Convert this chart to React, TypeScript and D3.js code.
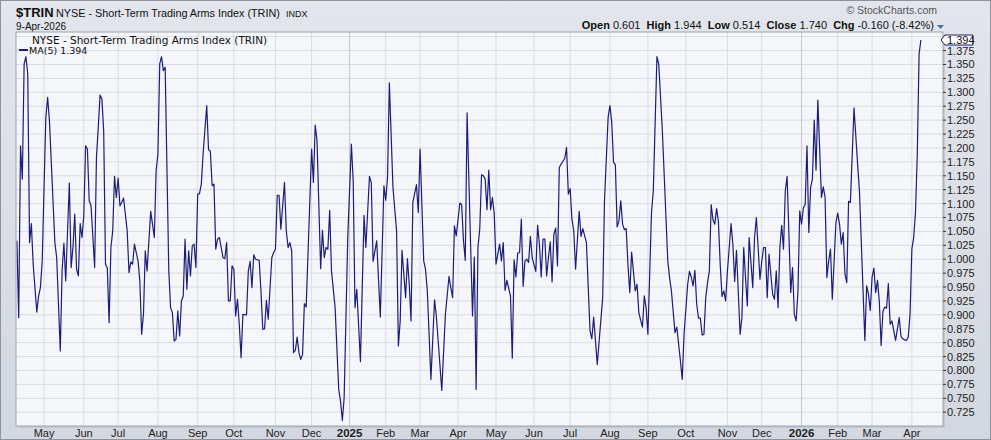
import React from 'react';
import * as d3 from 'd3';

// ---- calendar (NYSE sessions) ----
const START = '2024-04-10';
const END = '2026-04-09';
const HOLIDAYS = [
  '2024-05-27', '2024-06-19', '2024-07-04', '2024-09-02', '2024-11-28', '2024-12-25',
  '2025-01-01', '2025-01-09', '2025-01-20', '2025-02-17', '2025-04-18', '2025-05-26',
  '2025-06-19', '2025-07-04', '2025-09-01', '2025-11-27', '2025-12-25',
  '2026-01-01', '2026-01-19', '2026-02-16', '2026-04-03',
];

// ---- x-axis tick labels (one per month start, in order) ----
const xTickLabels = ['May', 'Jun', 'Jul', 'Aug', 'Sep', 'Oct', 'Nov', 'Dec', '2025', 'Feb', 'Mar', 'Apr',
  'May', 'Jun', 'Jul', 'Aug', 'Sep', 'Oct', 'Nov', 'Dec', '2026', 'Feb', 'Mar', 'Apr'];

// ---- y-axis tick labels ----
const yTicks = [0.725, 0.75, 0.775, 0.8, 0.825, 0.85, 0.875, 0.9, 0.925, 0.95, 0.975, 1.0, 1.025, 1.05,
  1.075, 1.1, 1.125, 1.15, 1.175, 1.2, 1.225, 1.25, 1.275, 1.3, 1.325, 1.35, 1.375];

// ---- MA(5) series: session number (0 = first session) and value ----
const sessionNo = [
  0, 1, 2, 3, 4, 5, 6, 7, 8, 9, 11, 12, 13, 14, 16, 17, 18, 21, 22, 24, 25, 26, 27, 29, 30, 31, 32, 33, 34, 35,
  36, 37, 38, 39, 40, 41, 43, 44, 45, 46, 47, 48, 49, 50, 51, 52, 53, 54, 55, 56, 57, 58, 59, 61, 62, 63, 64, 65,
  67, 68, 69, 70, 71, 72, 74, 75, 76, 77, 78, 79, 80, 81, 82, 84, 85, 86, 87,
  88, 89, 90, 91, 92, 93, 94, 95, 96, 97, 98, 99, 100, 101, 102, 103, 105, 106, 107, 108, 109, 110, 111, 112,
  113, 114, 115, 116, 117, 118, 119, 120, 121, 122, 123, 124, 125, 127, 128, 129, 130, 131, 132, 134, 135, 136,
  137, 138, 139, 141, 142, 143, 144, 145, 146, 148, 149, 150, 151, 152, 153, 154, 155, 156, 157, 158, 159, 160,
  163, 164, 165, 166, 168, 169, 170, 171, 172, 173,
  174, 176, 178, 179, 180, 181, 183, 185, 186, 187, 188, 190, 192, 193, 195, 196, 197, 199, 201, 203, 204, 205,
  206, 208, 210, 211, 212, 213, 215, 216, 217, 218, 219, 221, 222, 223, 225, 226, 227, 229, 231, 232, 235, 237,
  239, 240, 241, 242, 243, 245, 246, 247, 248, 249, 252, 253, 254, 255, 256, 257, 258, 259,
  260, 261, 262, 263, 264, 265, 267, 268, 269, 270, 271, 273, 274, 275, 276, 277, 278, 279, 280, 281, 282, 283,
  284, 285, 287, 288, 289, 290, 291, 292, 293, 294, 295, 296, 297, 298, 299, 300, 301, 303, 304, 305, 306, 307,
  308, 309, 311, 312, 313, 315, 317, 318, 319, 321, 324, 325, 327, 328, 329, 330, 331, 332, 333, 334, 335, 336,
  337, 338, 339, 340, 342, 343, 344, 345,
  346, 347, 348, 349, 351, 352, 354, 355, 357, 360, 361, 362, 364, 365, 367, 368, 369, 371, 372, 373, 374, 375,
  376, 377, 378, 379, 380, 381, 382, 383, 384, 385, 386, 387, 388, 389, 390, 391, 392, 393, 395, 396, 397, 398,
  400, 401, 402, 403, 404, 405, 407, 408, 409, 411, 412, 413, 414, 415, 416, 418, 419, 420, 421, 422, 423, 424,
  425, 426, 428, 429, 430, 431, 432,
  433, 434, 435, 436, 437, 438, 439, 440, 441, 442, 443, 445, 446, 447, 448, 449, 450, 451, 453, 454, 455, 456,
  457, 458, 459, 460, 461, 463, 465, 466, 469, 470, 471, 472, 473, 474, 475, 476, 477, 478, 479, 480, 481, 482,
  483, 484, 485, 486, 488, 489, 490, 491, 492, 493, 494, 495, 496, 497, 498, 499, 500,
];
const ma5 = [
  1.033, 0.895, 1.204, 1.144, 1.351, 1.364, 1.333, 1.030, 1.064, 0.991, 0.905, 0.934, 0.949, 0.997, 1.255, 1.291,
  1.249, 1.030, 1.003, 0.835, 0.979, 1.029, 0.961, 1.137, 0.985, 1.021, 1.081, 0.982, 0.970, 1.064,
  1.039, 1.078, 1.204, 1.198, 1.105, 1.096, 0.985, 1.183, 1.237, 1.295, 1.288, 1.231, 0.991, 0.984, 0.886, 1.021,
  1.051, 1.149, 1.111, 1.146, 1.096, 1.102, 1.110, 1.051, 0.976, 0.995, 0.991, 1.027,
  0.997, 0.961, 0.865, 0.901, 1.015, 0.979, 1.086, 1.063, 1.039, 1.159, 1.189, 1.351, 1.364, 1.339, 1.345, 0.980,
  0.913, 0.904, 0.853,
  0.856, 0.907, 0.862, 0.925, 0.934, 1.036, 0.946, 1.015, 0.970, 1.024, 1.027, 0.985, 1.117, 1.118, 1.135, 1.190,
  1.276, 1.197, 1.194, 1.132, 1.135, 1.018, 1.036, 1.039,
  1.021, 1.003, 1.001, 1.030, 0.925, 0.925, 0.988, 0.982, 0.898, 0.928, 0.883, 0.823, 0.901, 0.900, 0.979, 0.996,
  0.949, 1.008, 1.000, 0.998, 0.943, 0.874,
  0.875, 0.926, 0.892, 1.003, 1.012, 1.018, 1.115, 1.115, 1.054, 1.138, 1.051, 1.021, 1.030, 1.015, 0.832, 0.836,
  0.860, 0.832, 0.820, 0.829, 0.920, 0.914,
  1.198, 1.138, 1.241, 1.213, 0.983, 1.052, 1.003, 1.021, 1.018, 1.088,
  0.979, 0.913, 0.766, 0.745, 0.710, 0.751, 1.039, 1.207, 1.141, 0.913, 0.946, 0.816, 1.079, 1.021, 1.149, 1.138,
  0.996, 1.033, 0.896, 1.132, 1.106, 1.147,
  1.317, 1.129, 1.051, 0.844, 0.889, 1.016, 0.931, 1.001, 0.955, 0.889, 1.102, 1.134, 1.084, 1.198, 0.997, 0.982,
  0.943, 0.784, 0.927, 0.898, 0.764, 0.901,
  0.969, 0.949, 0.931, 1.060, 1.042, 1.101, 1.098, 1.033, 0.998, 1.263, 0.898, 1.004, 0.766, 1.021, 1.054, 1.152,
  1.150, 1.144,
  1.089, 1.160, 1.089, 1.111, 1.082, 0.991, 1.027, 0.997, 1.030, 0.944, 0.962, 0.934, 0.822, 0.999, 0.968, 1.011,
  1.012, 1.072, 0.951, 0.997, 1.000, 0.994,
  1.041, 1.003, 0.978, 1.061, 1.027, 0.968, 1.036, 1.036, 0.970, 1.003, 1.031, 0.959, 1.045, 1.056, 0.988, 1.165,
  1.171, 1.181, 1.201, 1.117, 1.127, 1.072,
  1.051, 0.982, 1.086, 1.041, 1.055, 1.030, 0.871, 0.857, 0.896, 0.811, 0.931, 1.105, 1.255, 1.276, 1.246, 1.174,
  1.170, 1.058, 1.069, 1.105, 1.063, 1.053,
  1.055, 0.988, 0.940, 1.013, 0.943, 0.955, 0.904, 0.890,
  0.878, 0.934, 0.913, 0.865, 1.084, 1.123, 1.364, 1.351, 1.231, 0.997, 0.967, 0.943, 0.868, 0.878, 0.817, 0.784,
  0.865, 0.955, 0.978, 0.968, 0.952, 0.980,
  0.919, 0.894, 0.894, 0.864, 0.865, 0.931, 0.958, 0.979, 1.098, 1.071, 1.063, 1.091, 1.068, 0.991, 0.933, 0.943,
  0.925, 0.979, 1.064, 1.027, 0.960, 1.016,
  0.865, 0.895, 1.021, 0.967, 0.916, 1.039, 0.949, 1.039, 1.075, 0.964, 0.997, 1.021, 1.021, 0.931, 1.009, 0.937,
  0.928, 0.979, 0.913, 1.021, 1.061, 1.018,
  1.123, 1.149, 0.940, 0.985, 0.901, 0.889, 0.943,
  1.087, 1.063, 1.092, 1.099, 1.204, 1.048, 1.129, 1.144, 1.250, 1.160, 1.286, 1.111, 1.130, 1.111, 0.967, 0.997,
  1.018, 0.928, 1.066, 1.083, 1.063, 1.027,
  1.048, 0.973, 0.958, 1.104, 1.102, 1.272, 1.171, 1.123, 0.854, 0.952, 0.937, 0.908, 0.968, 0.984, 0.940, 0.962,
  0.924, 0.845, 0.906, 0.914, 0.912, 0.956,
  0.883, 0.889, 0.871, 0.854, 0.895, 0.861, 0.857, 0.855, 0.854, 0.860, 0.901, 1.018, 1.039, 1.084, 1.189, 1.369,
  1.394,
];

// ---- header quote ----
const quoteLabels = ['Open', 'High', 'Low', 'Close', 'Chg'];
const quoteValues = ['0.601', '1.944', '0.514', '1.740', '-0.160 (-8.42%)'];
const lastMA = '1.394';

function buildSessions(): Date[] {
  const hol = new Set(HOLIDAYS);
  const out: Date[] = [];
  const d = new Date(START + 'T00:00:00Z');
  const end = new Date(END + 'T00:00:00Z').getTime();
  while (d.getTime() <= end) {
    const wd = d.getUTCDay();
    const iso = d.toISOString().slice(0, 10);
    if (wd !== 0 && wd !== 6 && !hol.has(iso)) out.push(new Date(d.getTime()));
    d.setUTCDate(d.getUTCDate() + 1);
  }
  return out;
}

const W = 991;
const H = 440;
const PL = 16, PR = 943, PT = 32, PB = 426;
const NAVY = '#1d1d78';
const AX_FONT = 'Arial, "Liberation Sans", sans-serif';
const LEG_FONT = '"DejaVu Sans", Verdana, sans-serif';

export default function App() {
  const sessions = buildSessions();
  const monthStarts: number[] = [];
  for (let i = 1; i < sessions.length; i++) {
    if (sessions[i].getUTCMonth() !== sessions[i - 1].getUTCMonth()) monthStarts.push(i);
  }
  const x = d3.scaleLinear().domain([0, sessions.length - 1]).range([16.9, 920.9]);
  const y = d3.scaleLinear().domain([0.725, 1.375]).range([412.2, 50.6]);
  const pts: [number, number][] = sessionNo.map((s, i) => [s, ma5[i]]);
  const line = d3.line<[number, number]>().x(d => x(d[0])).y(d => y(d[1]));
  const gridVals = [...yTicks, 1.4];

  const ohlc: React.ReactNode[] = [];
  quoteLabels.forEach((l, i) => {
    ohlc.push(<tspan key={'l' + i} fontWeight="bold">{(i ? '  ' : '') + l}</tspan>);
    ohlc.push(<tspan key={'v' + i}>{' ' + quoteValues[i]}</tspan>);
  });

  const yLast = y(ma5[ma5.length - 1]);

  return (
    <div style={{ width: W, height: H }}>
      <style>{'body{margin:0}'}</style>
      <svg width={W} height={H} style={{ display: 'block' }}>
        <defs>
          <linearGradient id="bg" x1="0" y1="0" x2="0" y2="1">
            <stop offset="0" stopColor="#e2e5eb" />
            <stop offset="1" stopColor="#d3d7df" />
          </linearGradient>
          <clipPath id="plotclip">
            <rect x={PL} y={PT} width={PR - PL} height={PB - PT} />
          </clipPath>
        </defs>
        <rect x={0} y={0} width={W} height={H} fill="url(#bg)" />
        <rect x={0.5} y={0.5} width={W - 1} height={H - 1} fill="none" stroke="#8d929b" />

        {/* header */}
        <text x={16} y={17} fontFamily={AX_FONT} fontSize={13} fontWeight="bold" fill="#111">$TRIN</text>
        <text x={56} y={17} fontFamily={AX_FONT} fontSize={10.8} fill="#111">NYSE - Short-Term Trading Arms Index (TRIN)</text>
        <text x={286} y={17} fontFamily={AX_FONT} fontSize={9} fill="#111">INDX</text>
        <text x={16} y={29.5} fontFamily={AX_FONT} fontSize={10} fill="#111">9-Apr-2026</text>
        <text x={937} y={14} textAnchor="end" fontFamily={AX_FONT} fontSize={10.5} fill="#555">© StockCharts.com</text>
        <text x={934} y={29} textAnchor="end" fontFamily={AX_FONT} fontSize={11} fill="#111" xmlSpace="preserve">{ohlc}</text>
        <path d="M937,25 L944,25 L940.5,29 Z" fill="#4d6fa8" />

        {/* plot panel */}
        <rect x={PL + 2} y={PT + 2} width={PR - PL} height={PB - PT} fill="#b9bec8" opacity={0.6} />
        <rect x={PL} y={PT} width={PR - PL} height={PB - PT} fill="#f4f6fa" />
        {gridVals.map(v => (
          <line key={'h' + v} x1={PL} x2={PR} y1={y(v)} y2={y(v)} stroke="#d9dce3" strokeWidth={1} />
        ))}
        {monthStarts.map((s, i) => (
          <line key={'v' + s} x1={x(s)} x2={x(s)} y1={PT} y2={PB}
            stroke={xTickLabels[i] && /^\d{4}$/.test(xTickLabels[i]) ? '#c2c6ce' : '#d9dce3'} strokeWidth={1} />
        ))}
        <g clipPath="url(#plotclip)">
          <path d={line(pts) || ''} fill="none" stroke={NAVY} strokeWidth={1.2} strokeLinejoin="round" />
        </g>
        <rect x={PL} y={PT} width={PR - PL} height={PB - PT} fill="none" stroke="#9ea3ac" />

        {/* legend */}
        <text x={32} y={44} fontFamily={LEG_FONT} fontSize={10.5} fill="#111">NYSE - Short-Term Trading Arms Index (TRIN)</text>
        <line x1={19} x2={28} y1={50} y2={50} stroke={NAVY} strokeWidth={2} />
        <text x={29} y={54} fontFamily={LEG_FONT} fontSize={9.5} fill="#111">{'MA(5) ' + lastMA}</text>

        {/* right y axis */}
        {yTicks.map(v => (
          <g key={'yt' + v}>
            <line x1={PR} x2={PR + 3} y1={y(v)} y2={y(v)} stroke="#333" />
            <text x={PR + 4} y={y(v)} dy="0.36em" fontFamily={AX_FONT} fontSize={11} fill="#222">{v.toFixed(3)}</text>
          </g>
        ))}
        <path d={`M${PR - 2},${yLast} L${PR + 2},${yLast - 5} L${PR + 30},${yLast - 5} L${PR + 30},${yLast + 5} L${PR + 2},${yLast + 5} Z`}
          fill="#ffffff" stroke={NAVY} strokeWidth={1} />
        <text x={PR + 4} y={yLast} dy="0.36em" fontFamily={AX_FONT} fontSize={11} fill="#111">{lastMA}</text>

        {/* bottom x axis */}
        {monthStarts.map((s, i) => {
          const lab = xTickLabels[i];
          if (!lab) return null;
          const isYear = /^\d{4}$/.test(lab);
          return (
            <text key={'xl' + s} x={x(s)} y={437} textAnchor="middle" fontFamily={AX_FONT}
              fontSize={isYear ? 11.5 : 11} fontWeight={isYear ? 'bold' : 'normal'} fill="#222">{lab}</text>
          );
        })}
      </svg>
    </div>
  );
}
